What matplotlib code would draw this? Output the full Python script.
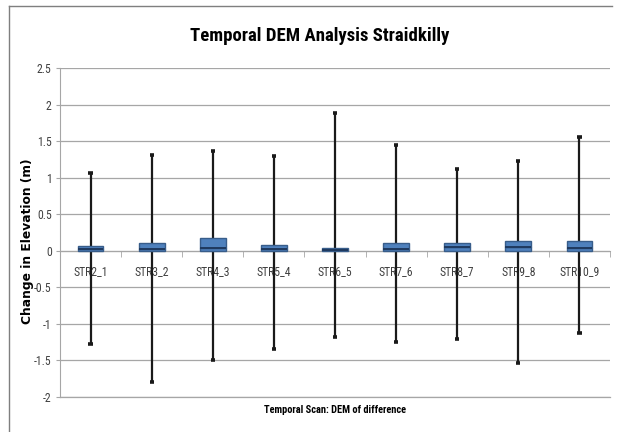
import matplotlib.pyplot as plt
from matplotlib.lines import Line2D
from matplotlib import font_manager
import numpy as np

# Box-and-whisker values (m)
scans = ["STR2_1", "STR3_2", "STR4_3", "STR5_4", "STR6_5",
         "STR7_6", "STR8_7", "STR9_8", "STR10_9"]
whisker_max = [1.07, 1.31, 1.36, 1.29, 1.88, 1.45, 1.12, 1.23, 1.55]
q3 = [0.06, 0.10, 0.17, 0.08, 0.04, 0.10, 0.11, 0.14, 0.13]
median = [0.025, 0.03, 0.04, 0.03, 0.015, 0.03, 0.05, 0.05, 0.04]
q1 = [0.0, 0.0, 0.0, 0.0, 0.0, 0.0, 0.0, 0.0, 0.0]
whisker_min = [-1.28, -1.79, -1.49, -1.34, -1.18, -1.25, -1.21, -1.54, -1.12]
yticks = [-2, -1.5, -1, -0.5, 0, 0.5, 1, 1.5, 2, 2.5]

# pick a narrow font if one is installed (Calibri look-alike)
installed = {(f.name, f.stretch) for f in font_manager.fontManager.ttflist}
names = {n for n, s in installed}
narrow_font = "DejaVu Sans"
narrow_stretch = "normal"
for cand in ["Liberation Sans Narrow", "Roboto Condensed", "Open Sans Condensed",
             "Noto Sans Condensed", "DejaVu Sans Condensed"]:
    if cand in names:
        narrow_font = cand
        break
else:
    for n, s in installed:
        if n in ("DejaVu Sans", "Noto Sans", "Roboto", "Open Sans") and s in (
                "condensed", "semi-condensed", 75, 87.5):
            narrow_font, narrow_stretch = n, "condensed"
            break
narrow = [narrow_font, "DejaVu Sans"]
grid_col = "#a6a6a6"

fig = plt.figure(figsize=(6.19, 4.32), dpi=100)
ax = fig.add_axes([60 / 619, 35 / 432, 550 / 619, 329 / 432])

x = np.arange(len(scans))
box_w = 0.42
cap_w = 0.035

# whiskers + caps
ax.vlines(x, whisker_min, whisker_max, color="#1a1a1a", lw=1.6, zorder=3)
ax.hlines(whisker_max, x - cap_w, x + cap_w, color="#1a1a1a", lw=2.6, zorder=3)
ax.hlines(whisker_min, x - cap_w, x + cap_w, color="#1a1a1a", lw=2.6, zorder=3)

# boxes (lower and upper halves like stacked bars)
ax.bar(x, np.array(median) - np.array(q1), box_w, bottom=q1,
       color="#4f81bd", edgecolor="#385d8a", lw=1.0, zorder=4)
ax.bar(x, np.array(q3) - np.array(median), box_w, bottom=median,
       color="#4f81bd", edgecolor="#385d8a", lw=1.0, zorder=4)
ax.hlines(median, x - box_w / 2, x + box_w / 2, color="#1f3a5f", lw=1.4, zorder=5)

ax.set_xlim(-0.5, len(scans) - 0.5)
ax.set_ylim(-2, 2.5)
ax.set_yticks(yticks)
ax.set_yticklabels([f"{v:g}" for v in yticks], family=narrow,
                   stretch=narrow_stretch, fontsize=8.5, color="#404040")
ax.yaxis.grid(True, color=grid_col, lw=0.9)
ax.axhline(-2, color=grid_col, lw=0.9, clip_on=False, zorder=0)
ax.set_axisbelow(True)
ax.tick_params(axis="y", length=3, color=grid_col, pad=3)

# category axis crossing at zero
ax.spines["bottom"].set_position(("data", 0))
ax.spines["bottom"].set_color(grid_col)
ax.spines["left"].set_color(grid_col)
ax.spines["top"].set_visible(False)
ax.spines["right"].set_visible(False)
ax.set_xticks(x)
ax.set_xticks(np.arange(-0.5, len(scans)), minor=True)
ax.set_xticklabels(scans, family=narrow, stretch=narrow_stretch, fontsize=8.5,
                   color="#404040")
ax.tick_params(axis="x", which="major", length=0, pad=10)
ax.tick_params(axis="x", which="minor", length=4, color=grid_col, direction="out")
for lab in ax.get_xticklabels():
    lab.set_zorder(1)

ax.set_ylabel("Change in Elevation (m)", fontsize=8.8, fontweight="bold",
              family=["DejaVu Sans"])
ax.yaxis.set_label_coords(-0.047, 0.474)
fig.text(335 / 619, 1 - 410 / 432, "Temporal Scan: DEM of difference",
         ha="center", va="center", fontsize=7.5, fontweight="bold",
         family=narrow, stretch=narrow_stretch)
fig.text(320 / 619, 1 - 36 / 432, "Temporal DEM Analysis Straidkilly",
         ha="center", va="center", fontsize=13.5, fontweight="bold",
         family=narrow, stretch=narrow_stretch)

# outer chart border (top and left visible)
fig.add_artist(Line2D([9 / 619, 612 / 619], [1 - 6 / 432, 1 - 6 / 432],
                      color="#7f7f7f", lw=1.0, transform=fig.transFigure))
fig.add_artist(Line2D([9 / 619, 9 / 619], [0, 1 - 6 / 432],
                      color="#7f7f7f", lw=1.0, transform=fig.transFigure))

fig.savefig("out.png", dpi=100)
